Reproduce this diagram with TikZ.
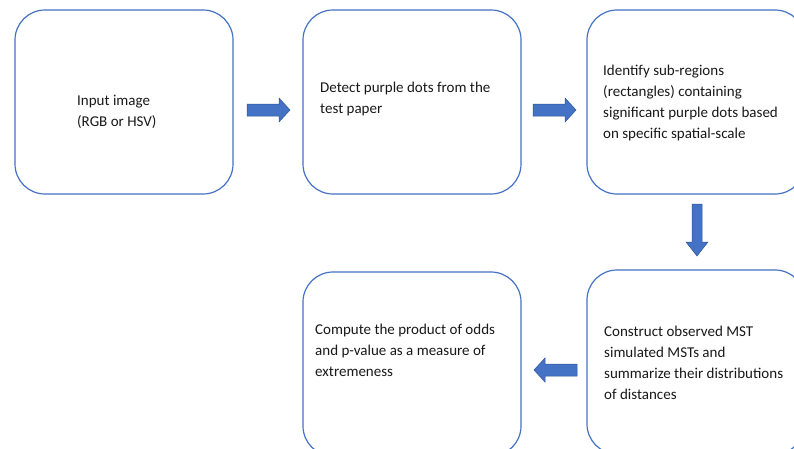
\documentclass[tikz,border=0pt]{standalone}
\usepackage{fontspec}
\setmainfont{Carlito}
\definecolor{boxblue}{HTML}{4472C4}
\definecolor{arrowblue}{HTML}{4472C4}
\definecolor{arrowedge}{HTML}{2F5597}
\begin{document}
\begin{tikzpicture}[x=1pt,y=-1pt,
  stage/.style={draw=boxblue, line width=1.2pt, rounded corners=30pt, minimum width=218pt, minimum height=184pt, inner sep=0pt},
  label/.style={anchor=north west, inner sep=0pt, align=left, font=\fontsize{15}{21}\selectfont, text=black!90},
  blockarrow/.style={fill=arrowblue, draw=arrowedge, line width=0.5pt}]
\useasboundingbox (0,0) rectangle (794,448);
\clip (0,0) rectangle (794,448);
\fill[white] (0,0) rectangle (794,448);

% stages
\node[stage] (b1) at (124,102) {};
\node[stage] (b2) at (412,102) {};
\node[stage] (b3) at (696,102) {};
\node[stage] (b4) at (696,362) {};
\node[stage] (b5) at (412,364) {};

% texts
\node[label] (t1) at (77,95) {Input image\\(RGB or HSV)};
\node[label] (t2) at (320,82) {Detect purple dots from the\\test paper};
\node[label] (t3) at (603,65) {Identify sub-regions\\(rectangles) containing\\significant purple dots based\\on specific spatial-scale};
\node[label] (t4) at (604,326) {Construct observed MST\\simulated MSTs and\\summarize their distributions\\of distances};
\node[label] (t5) at (315,324) {Compute the product of odds\\and p-value as a measure of\\extremeness};

% block arrows
\draw[blockarrow] (247,104) -- (279,104) -- (279,98) -- (290,110) -- (279,122) -- (279,116) -- (247,116) -- cycle;
\draw[blockarrow] (533,104) -- (565,104) -- (565,98) -- (576,110) -- (565,122) -- (565,116) -- (533,116) -- cycle;
\draw[blockarrow] (692,204) -- (702,204) -- (702,242) -- (708,242) -- (697,256) -- (686,242) -- (692,242) -- cycle;
\draw[blockarrow] (577,364) -- (545,364) -- (545,358) -- (534,370) -- (545,382) -- (545,376) -- (577,376) -- cycle;
\end{tikzpicture}
\end{document}
